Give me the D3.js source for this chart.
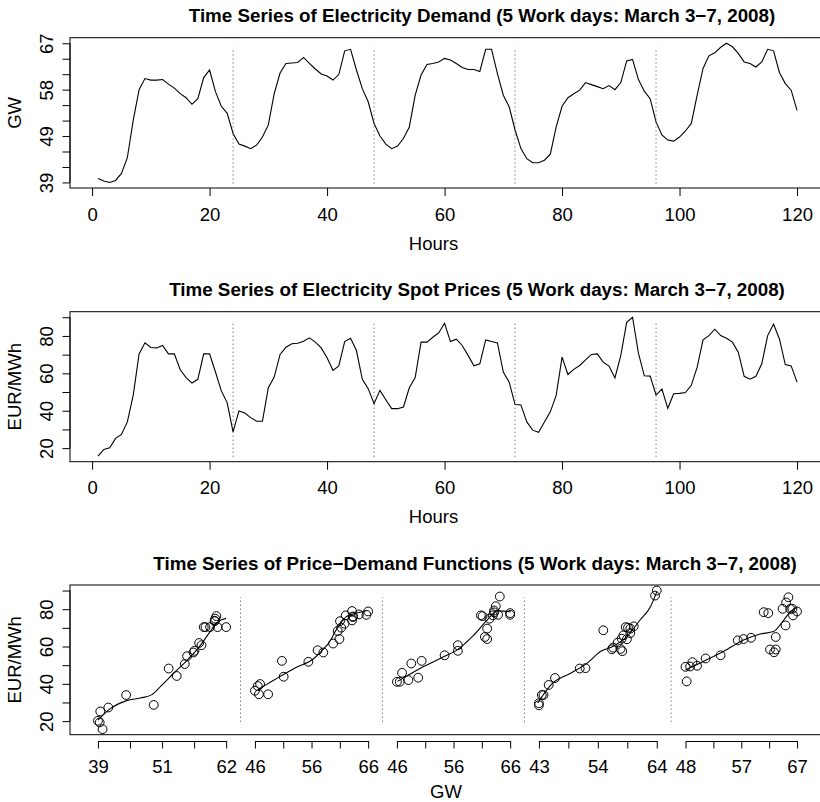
<!DOCTYPE html>
<html><head><meta charset="utf-8">
<script src="https://cdn.jsdelivr.net/npm/d3@7"></script>
<style>
body{margin:0;background:#fff}
svg{display:block}
text{font-family:"Liberation Sans",Arial,Helvetica,sans-serif;fill:#000}
</style>
</head><body>
<script>
// ---------------- data ----------------
const hours = d3.range(1, 121);
const demand = [
40.2, 39.7, 39.4, 39.8, 41.2, 44.3, 51.7, 57.8, 60.0, 59.7,
59.7, 59.8, 58.9, 58.1, 57.0, 56.2, 54.9, 56.0, 60.2, 61.7,
57.4, 54.5, 53.1, 49.1,
47.0, 46.6, 46.1, 46.8, 48.4, 50.8, 57.0, 61.1, 63.0, 63.1,
63.2, 64.2, 63.0, 61.9, 60.9, 60.5, 59.7, 60.8, 65.5, 65.8,
61.7, 58.0, 55.4, 51.1,
48.6, 47.0, 46.1, 46.6, 48.1, 50.4, 56.7, 60.7, 62.8, 63.0,
63.3, 64.0, 63.7, 63.0, 62.2, 61.8, 61.8, 61.4, 65.8, 65.8,
61.0, 56.7, 54.4, 49.8,
46.1, 44.1, 43.3, 43.3, 43.8, 45.0, 50.4, 54.5, 56.2, 57.0,
57.7, 59.2, 58.8, 58.4, 58.0, 58.6, 57.8, 59.2, 63.5, 63.8,
59.8, 57.5, 56.0, 51.4,
48.8, 47.8, 47.6, 48.4, 49.6, 51.1, 56.7, 62.0, 64.5, 65.1,
66.2, 67.0, 66.3, 65.0, 63.3, 63.0, 62.3, 63.3, 65.8, 65.5,
61.2, 59.0, 57.7, 53.7];
const price = [
15.7, 19.3, 20.2, 25.2, 27.3, 34.0, 48.2, 70.4, 76.3, 73.8,
73.6, 74.9, 70.4, 70.4, 61.9, 57.7, 54.8, 56.8, 70.4, 70.4,
60.7, 50.6, 44.2, 28.7,
39.9, 38.8, 36.3, 34.4, 34.4, 52.3, 58.0, 70.1, 74.0, 75.8,
76.1, 77.2, 79.0, 76.7, 73.6, 68.3, 61.6, 64.0, 77.0, 78.8,
72.2, 56.8, 51.8, 43.8,
50.9, 45.9, 41.1, 41.1, 42.0, 52.3, 57.7, 76.7, 76.7, 79.3,
81.6, 86.8, 77.0, 78.3, 74.9, 69.6, 64.0, 65.1, 77.9, 77.0,
76.3, 60.7, 55.3, 43.3,
43.1, 34.0, 29.6, 28.5, 34.0, 39.4, 48.2, 68.7, 59.4, 62.1,
64.2, 67.2, 70.1, 70.4, 66.0, 63.9, 57.5, 69.6, 87.3, 90.0,
70.8, 58.7, 58.5, 48.4,
51.6, 41.3, 49.1, 49.3, 49.7, 53.6, 63.3, 77.9, 80.2, 83.6,
80.2, 78.8, 76.7, 71.3, 58.4, 56.9, 58.4, 65.1, 80.2, 86.4,
78.4, 64.7, 64.0, 55.3];

// smooth price-demand curves (one per day)
const curveGW = [
  [39.4, 41.5, 44.4, 46.8, 48.8, 50.3, 52.6, 55.0, 57.3, 59.1, 60.3, 61.7],
  [46.6, 49.5, 53.0, 56.4, 57.6, 59.3, 59.9, 60.8, 62.0, 63.2, 65.5],
  [46.2, 50.2, 54.3, 56.6, 59.5, 61.8, 63.6, 65.9],
  [43.1, 45.4, 48.9, 51.7, 54.0, 56.3, 58.6, 60.9, 62.7, 63.8],
  [47.6, 50.7, 54.2, 57.7, 60.6, 62.9, 64.7, 65.8, 67.0]];
const curveEUR = [
  [20.5, 26.6, 31.0, 32.4, 34.2, 38.6, 45.8, 52.9, 60.9, 68.8, 73.3, 75.1],
  [36.9, 42.2, 48.4, 53.7, 57.3, 63.5, 67.1, 71.5, 76.0, 77.4, 79.2],
  [41.3, 48.4, 54.6, 58.2, 66.2, 74.2, 79.1, 78.6],
  [29.8, 39.5, 45.8, 51.1, 57.3, 60.3, 65.3, 74.2, 81.3, 89.3],
  [47.5, 52.0, 57.3, 63.5, 66.7, 68.0, 74.2, 78.6, 80.9]];

const hourTicks = [0, 20, 40, 60, 80, 100, 120];
const dayBreaks = [24, 48, 72, 96];
const demandTickLabels = ["39", "", "", "49", "", "", "58", "", "", "67"];
const priceTicks = [20, 30, 40, 50, 60, 70, 80, 90];
const priceTickLabels = ["20", "", "40", "", "60", "", "80", ""];
const gwTickLabels = [["39","51","62"],["46","56","66"],["46","56","66"],["43","54","64"],["48","57","67"]];
const demandSepRange = [39.2, 66.2];
const priceSepRange = [15.4, 87.6];
const pdSepRange = [19.7, 86.4];
const dayGap = 5;

const titles = [
  "Time Series of Electricity Demand (5 Work days: March 3\u22127, 2008)",
  "Time Series of Electricity Spot Prices (5 Work days: March 3\u22127, 2008)",
  "Time Series of Price\u2212Demand Functions (5 Work days: March 3\u22127, 2008)"];

// ---------------- layout ----------------
const W = 820, H = 802;
const L = 70, R = 825;
const P = [{top: 37.7, bottom: 188}, {top: 311.7, bottom: 461.7}, {top: 585, bottom: 734.7}];
const titleX = [482, 477, 475];
const FS = 18.5;

const svg = d3.select("body").append("svg").attr("width", W).attr("height", H);

function ext(a) { const [lo, hi] = d3.extent(a); const r = hi - lo; return [lo - 0.04 * r, hi + 0.04 * r]; }

function box(p) {
  svg.append("rect").attr("x", L).attr("y", p.top).attr("width", R - L).attr("height", p.bottom - p.top)
    .attr("fill", "none").attr("stroke", "#000").attr("stroke-width", 1);
}
function title(i, p) {
  svg.append("text").attr("x", titleX[i]).attr("y", p.top - 15.5).attr("text-anchor", "middle")
    .attr("font-size", 18.8).attr("font-weight", "bold").text(titles[i]);
}
function yAxis(p, y, vals, labels, name) {
  const g = svg.append("g").attr("transform", `translate(${L},0)`)
    .call(d3.axisLeft(y).tickValues(vals).tickSize(7.5).tickSizeOuter(0).tickFormat((d, i) => labels[i]));
  g.select(".domain").remove();
  g.selectAll(".tick line").attr("stroke", "#000");
  g.selectAll(".tick text").attr("x", 0).attr("y", -17).attr("dy", 0)
    .attr("transform", "rotate(-90)").attr("text-anchor", "middle")
    .attr("font-size", FS).attr("font-family", null).attr("fill", "#000");
  svg.append("line").attr("x1", L).attr("x2", L).attr("y1", y(vals[0])).attr("y2", y(vals[vals.length - 1])).attr("stroke", "#000");
  svg.append("text").attr("transform", `translate(21,${(p.top + p.bottom) / 2}) rotate(-90)`)
    .attr("text-anchor", "middle").attr("font-size", FS).text(name);
}
function xAxisHours(p, x) {
  const g = svg.append("g").attr("transform", `translate(0,${p.bottom})`)
    .call(d3.axisBottom(x).tickValues(hourTicks).tickSize(8).tickSizeOuter(0).tickFormat(d3.format("d")));
  g.select(".domain").remove();
  g.selectAll(".tick line").attr("stroke", "#000");
  g.selectAll(".tick text").attr("y", 32.5).attr("dy", 0).attr("font-size", FS).attr("font-family", null).attr("fill", "#000");
  svg.append("text").attr("x", (L + 797) / 2).attr("y", p.bottom + 61.5).attr("text-anchor", "middle")
    .attr("font-size", FS).text("Hours");
}

// ---------------- panel 1: demand ----------------
const x = d3.scaleLinear().domain(ext(hours)).range([L, R]);
const y1 = d3.scaleLinear().domain(ext(demand)).range([P[0].bottom, P[0].top]);
const line1 = d3.line().x((d, i) => x(hours[i])).y(d => y1(d));
svg.append("path").datum(demand).attr("d", line1).attr("fill", "none").attr("stroke", "#000").attr("stroke-width", 1.1);
dayBreaks.forEach(h => svg.append("line").attr("x1", x(h)).attr("x2", x(h))
  .attr("y1", y1(demandSepRange[0])).attr("y2", y1(demandSepRange[1]))
  .attr("stroke", "#444").attr("stroke-dasharray", "1,3"));
box(P[0]); title(0, P[0]);
const [dmin, dmax] = d3.extent(demand);
const demandTicks = demandTickLabels.map((_, i) => dmin + (dmax - dmin) * i / (demandTickLabels.length - 1));
yAxis(P[0], y1, demandTicks, demandTickLabels, "GW");
xAxisHours(P[0], x);

// ---------------- panel 2: price ----------------
const y2 = d3.scaleLinear().domain(ext(price)).range([P[1].bottom, P[1].top]);
const line2 = d3.line().x((d, i) => x(hours[i])).y(d => y2(d));
svg.append("path").datum(price).attr("d", line2).attr("fill", "none").attr("stroke", "#000").attr("stroke-width", 1.1);
dayBreaks.forEach(h => svg.append("line").attr("x1", x(h)).attr("x2", x(h))
  .attr("y1", y2(priceSepRange[0])).attr("y2", y2(priceSepRange[1]))
  .attr("stroke", "#444").attr("stroke-dasharray", "1,3"));
box(P[1]); title(1, P[1]);
yAxis(P[1], y2, priceTicks, priceTickLabels, "EUR/MWh");
xAxisHours(P[1], x);

// ---------------- panel 3: price-demand ----------------
const days = d3.range(5).map(d => d3.range(d * 24, d * 24 + 24));
const dayExt = days.map(idx => d3.extent(idx.map(i => demand[i])));
const offsets = [];
let acc = 0;
dayExt.forEach(e => { offsets.push(acc); acc += (e[1] - e[0]) + dayGap; });
const total = acc - dayGap;
const x3 = d3.scaleLinear().domain([-0.04 * total, total * 1.04]).range([L, R]);
const y3 = d3.scaleLinear().domain(ext(price)).range([P[2].bottom, P[2].top]);
const segScales = dayExt.map((e, d) => d3.scaleLinear().domain(e).range([x3(offsets[d]), x3(offsets[d] + e[1] - e[0])]));

days.forEach((idx, d) => {
  const sx = segScales[d];
  svg.append("g").selectAll("circle").data(idx).join("circle")
    .attr("cx", i => sx(demand[i])).attr("cy", i => y3(price[i])).attr("r", 4.4)
    .attr("fill", "none").attr("stroke", "#000").attr("stroke-width", 1);
  const ln = d3.line().curve(d3.curveMonotoneX).x((v, k) => sx(v)).y((v, k) => y3(curveEUR[d][k]));
  svg.append("path").datum(curveGW[d]).attr("d", ln).attr("fill", "none").attr("stroke", "#000").attr("stroke-width", 1.1);
  if (d > 0) {
    const xs = (x3(offsets[d - 1] + dayExt[d - 1][1] - dayExt[d - 1][0]) + x3(offsets[d])) / 2;
    svg.append("line").attr("x1", xs).attr("x2", xs).attr("y1", y3(pdSepRange[0])).attr("y2", y3(pdSepRange[1]))
      .attr("stroke", "#444").attr("stroke-dasharray", "1,3");
  }
  const e = dayExt[d];
  const tv = d3.range(5).map(k => e[0] + (e[1] - e[0]) * k / 4);
  const g = svg.append("g").attr("transform", `translate(0,${P[2].bottom + 6.3})`)
    .call(d3.axisBottom(sx).tickValues(tv).tickSize(7.5).tickSizeOuter(0)
      .tickFormat((v, k) => k % 2 === 0 ? gwTickLabels[d][k / 2] : ""));
  g.select(".domain").attr("stroke", "#000");
  g.selectAll(".tick line").attr("stroke", "#000");
  g.selectAll(".tick text").attr("y", 32).attr("dy", 0).attr("font-size", FS).attr("font-family", null).attr("fill", "#000");
});
box(P[2]); title(2, P[2]);
yAxis(P[2], y3, priceTicks, priceTickLabels, "EUR/MWh");
svg.append("text").attr("x", 446).attr("y", 797.5).attr("text-anchor", "middle").attr("font-size", FS).text("GW");
</script>
</body></html>
